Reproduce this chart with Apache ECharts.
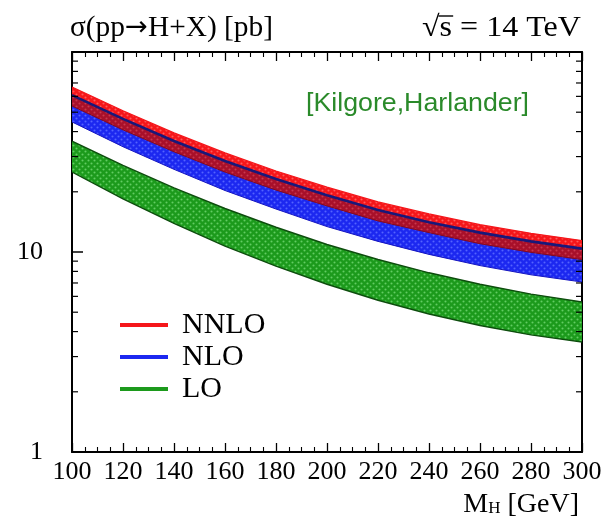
<!DOCTYPE html>
<html><head><meta charset="utf-8">
<script src="https://cdn.jsdelivr.net/npm/echarts@6/dist/echarts.min.js"></script>
<style>html,body{margin:0;padding:0;background:#fff}#c{width:604px;height:531px}</style>
</head><body><div id="c"></div>
<script>
// ---- data ----
const massGeV = [100, 120, 140, 160, 180, 200, 220, 240, 260, 280, 300];
const nnloHigh = [66.8, 50.8, 39.4, 31.3, 25.4, 21.1, 17.8, 15.5, 13.7, 12.4, 11.4];
const nnloLow  = [53.7, 40.8, 31.7, 25.1, 20.4, 17.0, 14.3, 12.5, 11.0, 9.96, 9.16];
const nloHigh  = [60.9, 46.3, 35.9, 28.5, 23.2, 19.2, 16.2, 14.1, 12.5, 11.3, 10.4];
const nloLow   = [44.7, 33.6, 25.9, 20.3, 16.4, 13.4, 11.3, 9.73, 8.55, 7.69, 7.08];
const loHigh   = [35.8, 27.1, 20.9, 16.5, 13.3, 10.9, 9.17, 7.87, 6.90, 6.16, 5.62];
const loLow    = [25.1, 18.45, 13.9, 10.7, 8.49, 6.90, 5.74, 4.90, 4.29, 3.85, 3.55];
const xRange = [100, 300];
const xTickStep = 20;
const yRange = [1, 100];
const logMinorTicks = [2, 3, 4, 5, 6, 7, 8, 9, 20, 30, 40, 50, 60, 70, 80, 90];
const legendNames = ['NNLO', 'NLO', 'LO'];
const titleParts = ['σ(pp', '→', 'H+X) [pb]'];
const energyText = 's = 14 TeV';
const refText = '[Kilgore,Harlander]';

// ---- styling ----
const SERIF = '"Liberation Serif", "Times New Roman", serif';
const SANS = '"Liberation Sans", Arial, sans-serif';
const ARROWFONT = '"DejaVu Sans", sans-serif';
function makePattern(base, dot) {
  const c = document.createElement('canvas');
  c.width = 6; c.height = 6;
  const g = c.getContext('2d');
  g.fillStyle = base; g.fillRect(0, 0, 6, 6);
  g.fillStyle = dot;
  g.beginPath(); g.arc(1.5, 1.5, 1.05, 0, Math.PI * 2); g.fill();
  g.beginPath(); g.arc(4.5, 4.5, 1.05, 0, Math.PI * 2); g.fill();
  return { image: c, repeat: 'repeat' };
}
const C = {
  red: '#f5161a', blue: '#1c28f0', green: '#1c9a1c', maroon: '#a8102a',
  navy: '#18187a', greenEdge: '#0d4d0d'
};
const patGreen = makePattern(C.green, '#62cc62');
const patBlue = makePattern(C.blue, '#5462ff');
const patRed = makePattern(C.red, '#ff5a5a');
const patMaroon = makePattern(C.maroon, '#c8384e');

function bandSeries(name, low, high, fill, topEdge, botEdge, z) {
  return {
    type: 'custom', name: name, z: z, silent: true, clip: true,
    coordinateSystem: 'cartesian2d',
    data: massGeV.map((m, i) => [m, low[i], high[i]]),
    encode: { x: 0, y: [1, 2] },
    renderItem: function (params, api) {
      if (params.dataIndex !== 0) return null;
      const top = [], bot = [];
      for (let i = 0; i < massGeV.length; i++) {
        top.push(api.coord([api.value(0, i), api.value(2, i)]));
        bot.push(api.coord([api.value(0, i), api.value(1, i)]));
      }
      const children = [{
        type: 'polygon', shape: { points: top.concat(bot.slice().reverse()) },
        style: { fill: fill }
      }];
      if (topEdge) children.push({ type: 'polyline', shape: { points: top },
        style: { fill: null, stroke: topEdge.color, lineWidth: topEdge.width } });
      if (botEdge) children.push({ type: 'polyline', shape: { points: bot },
        style: { fill: null, stroke: botEdge.color, lineWidth: botEdge.width } });
      return { type: 'group', children: children };
    }
  };
}
function lineSeries(name, vals, color, width, z) {
  return {
    type: 'custom', name: name, z: z, silent: true, clip: true,
    coordinateSystem: 'cartesian2d',
    data: massGeV.map((m, i) => [m, vals[i]]),
    encode: { x: 0, y: 1 },
    renderItem: function (params, api) {
      if (params.dataIndex !== 0) return null;
      const pts = [];
      for (let i = 0; i < massGeV.length; i++) pts.push(api.coord([api.value(0, i), api.value(1, i)]));
      return { type: 'polyline', shape: { points: pts }, style: { fill: null, stroke: color, lineWidth: width } };
    }
  };
}

// text measuring for horizontal fit of the header texts
const mctx = document.createElement('canvas').getContext('2d');
function tw(t, font) { mctx.font = font; return mctx.measureText(t).width; }
const FT = '29px ' + SERIF;
const FA = '27px ' + ARROWFONT;
const titleW = tw(titleParts[0], FT) + tw(titleParts[1], FA) + tw(titleParts[2], FT);
const FE = '29px ' + SERIF;
const rootW = tw('√', FE), sW = tw('s', FE), restW = tw(energyText, FE);
const refW = tw(refText, '25px ' + SANS);

const axisCommon = {
  axisLine: { show: true, onZero: false, lineStyle: { color: '#000', width: 2 } },
  splitLine: { show: false }
};

const chart = echarts.init(document.getElementById('c'), null, { renderer: 'canvas' });
chart.setOption({
  animation: false,
  backgroundColor: '#fff',
  grid: { left: 72, right: 22, top: 52, bottom: 79, containLabel: false, outerBoundsMode: 'none' },
  xAxis: [
    Object.assign({}, axisCommon, {
      type: 'value', position: 'bottom', min: xRange[0], max: xRange[1], interval: xTickStep,
      axisTick: { inside: true, length: 9, lineStyle: { color: '#000', width: 1.3 } },
      minorTick: { show: true, splitNumber: 4, length: 5, lineStyle: { color: '#000', width: 1.1 } },
      axisLabel: { margin: 7, fontFamily: SERIF, fontSize: 26, color: '#000' }
    }),
    Object.assign({}, axisCommon, {
      type: 'value', position: 'top', min: xRange[0], max: xRange[1], interval: xTickStep,
      axisTick: { inside: true, length: 9, lineStyle: { color: '#000', width: 1.3 } },
      minorTick: { show: true, splitNumber: 4, length: 5, lineStyle: { color: '#000', width: 1.1 } },
      axisLabel: { show: false }
    })
  ],
  yAxis: [
    Object.assign({}, axisCommon, {
      type: 'log', logBase: 10, position: 'left', min: yRange[0], max: yRange[1],
      axisTick: { inside: true, length: 11, lineStyle: { color: '#000', width: 1.5 } },
      axisLabel: { margin: 29, fontFamily: SERIF, fontSize: 26, color: '#000', showMaxLabel: false }
    }),
    Object.assign({}, axisCommon, {
      type: 'log', logBase: 10, position: 'right', min: yRange[0], max: yRange[1],
      axisTick: { inside: true, length: 11, lineStyle: { color: '#000', width: 1.5 } },
      axisLabel: { show: false }
    })
  ],
  legend: {
    orient: 'vertical', left: 115, top: 305, padding: 5, itemWidth: 48, itemHeight: 4, itemGap: 2,
    icon: 'rect', selectedMode: false,
    textStyle: { fontFamily: SERIF, fontSize: 30, color: '#000', lineHeight: 30, padding: [0, 0, 0, 9] },
    data: [
      { name: legendNames[0], itemStyle: { color: C.red } },
      { name: legendNames[1], itemStyle: { color: C.blue } },
      { name: legendNames[2], itemStyle: { color: C.green } }
    ]
  },
  series: [
    bandSeries(legendNames[2], loLow, loHigh, patGreen,
      { color: C.greenEdge, width: 1.4 }, { color: C.greenEdge, width: 1.4 }, 2),
    bandSeries(legendNames[1], nloLow, nloHigh, patBlue, null, { color: '#1414c0', width: 1 }, 3),
    bandSeries(legendNames[0], nloHigh, nnloHigh, patRed, { color: C.red, width: 1.2 }, null, 4),
    bandSeries(legendNames[0], nnloLow, nloHigh, patMaroon, null, { color: '#860a1c', width: 1 }, 5),
    lineSeries(legendNames[1], nloHigh, C.navy, 2.6, 6),
    {
      type: 'custom', name: '_logMinorTicks', coordinateSystem: 'cartesian2d', silent: true, clip: false, z: 8,
      data: logMinorTicks.map(v => [xRange[0], v]), encode: { x: 0, y: 1 },
      renderItem: function (params, api) {
        const v = api.value(1);
        const l = api.coord([xRange[0], v]);
        const r = api.coord([xRange[1], v]);
        const st = { stroke: '#000', lineWidth: 1.2 };
        return { type: 'group', children: [
          { type: 'line', shape: { x1: l[0], y1: l[1], x2: l[0] + 6, y2: l[1] }, style: st },
          { type: 'line', shape: { x1: r[0] - 6, y1: r[1], x2: r[0], y2: r[1] }, style: st }
        ] };
      }
    }
  ],
  graphic: [
    { type: 'text', x: 70, y: 28, scaleX: 203 / titleW,
      style: { text: '{t|' + titleParts[0] + '}{a|' + titleParts[1] + '}{t|' + titleParts[2] + '}',
        textAlign: 'left', textVerticalAlign: 'middle', fill: '#000',
        rich: {
          t: { fontFamily: SERIF, fontSize: 29, color: '#000', lineHeight: 32 },
          a: { fontFamily: ARROWFONT, fontSize: 27, color: '#000', lineHeight: 32 }
        } } },
    { type: 'group', x: 581 - 159, y: 28, scaleX: 159 / (rootW + restW), children: [
      { type: 'text', x: 0, y: 0, style: { text: '√', font: FE, fill: '#000', textAlign: 'left', textVerticalAlign: 'middle' } },
      { type: 'line', shape: { x1: rootW - 1, y1: -12, x2: rootW + sW + 1, y2: -12 }, style: { stroke: '#000', lineWidth: 1.4 } },
      { type: 'text', x: rootW, y: 0, style: { text: energyText, font: FE, fill: '#000', textAlign: 'left', textVerticalAlign: 'middle' } }
    ] },
    { type: 'text', x: 306, y: 104, scaleX: 223 / refW,
      style: { text: refText, font: '25px ' + SANS, fill: '#2a8a2a', textAlign: 'left', textVerticalAlign: 'middle' } },
    { type: 'text', x: 579, y: 509,
      style: { text: '{m|M}{s|H}{m| [GeV]}', textAlign: 'right', textVerticalAlign: 'middle', fill: '#000',
        rich: {
          m: { fontFamily: SERIF, fontSize: 28, color: '#000', padding: [0, 0, 8, 0] },
          s: { fontFamily: SERIF, fontSize: 17, color: '#000' }
        } } }
  ]
});
</script>
</body></html>
